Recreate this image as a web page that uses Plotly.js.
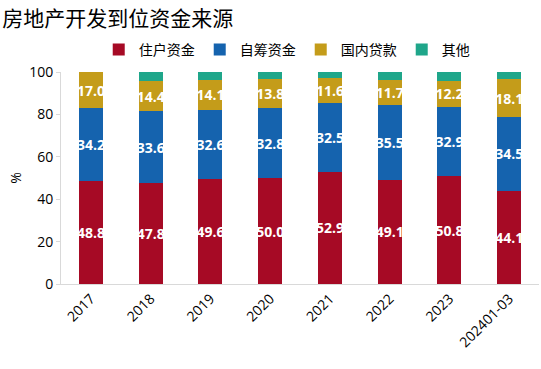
<!DOCTYPE html>
<html>
<head>
<meta charset="utf-8">
<script src="https://cdn.plot.ly/plotly-3.0.1.min.js"></script>
<style>html,body{margin:0;padding:0;background:#fff;}#chart{width:541px;height:369px;}</style>
</head>
<body>
<div id="chart"></div>
<script>
var categories = ['2017','2018','2019','2020','2021','2022','2023','202401-03'];
var household = [48.8, 47.8, 49.6, 50.0, 52.9, 49.1, 50.8, 44.1];
var selfRaised = [34.2, 33.6, 32.6, 32.8, 32.5, 35.5, 32.9, 34.5];
var domesticLoans = [17.0, 14.4, 14.1, 13.8, 11.6, 11.7, 12.2, 18.1];
var other = [0.0, 4.2, 3.7, 3.4, 3.0, 3.7, 4.1, 3.3];
var seriesNames = ['住户资金','自筹资金','国内贷款','其他'];
var colors = ['#A60A25','#1563AE','#C49C1A','#1FA68A'];

function fmt(arr){ return arr.map(function(v){ return v.toFixed(1); }); }

var series = [household, selfRaised, domesticLoans, other];
var traces = series.map(function(vals, i){
  var t = {
    type: 'bar',
    name: seriesNames[i],
    x: categories,
    y: vals,
    marker: {color: colors[i]},
    hoverinfo: 'x+y+name'
  };
  if (i < 3) {
    t.text = fmt(vals);
    t.textposition = 'inside';
    t.insidetextanchor = 'middle';
    t.textangle = 0;
    t.constraintext = 'none';
    t.textfont = {family: 'Open Sans, Arial, sans-serif', size: 14, color: '#ffffff', weight: 'bold'};
  } else {
    t.textposition = 'none';
  }
  return t;
});

var layout = {
  width: 541,
  height: 369,
  barmode: 'stack',
  bargap: 0.6,
  paper_bgcolor: '#ffffff',
  plot_bgcolor: '#ffffff',
  margin: {l: 61, r: 2, t: 72, b: 85},
  font: {family: 'Noto Sans CJK SC, sans-serif', color: '#000000'},
  title: {
    text: '房地产开发到位资金来源',
    x: 0.004, xanchor: 'left', xref: 'container',
    y: 0.95, yanchor: 'middle', yref: 'container',
    font: {family: 'Noto Sans CJK SC, sans-serif', size: 21, color: '#000000'}
  },
  legend: {
    orientation: 'h',
    traceorder: 'normal',
    xref: 'container', yref: 'container',
    x: 0.53, xanchor: 'center',
    y: 0.865, yanchor: 'middle',
    font: {family: 'Noto Sans CJK SC, sans-serif', size: 14, color: '#000000'},
    itemwidth: 30,
    tracegroupgap: 0
  },
  xaxis: {
    type: 'category',
    tickangle: -45,
    tickfont: {family: 'Open Sans, Arial, sans-serif', size: 14, color: '#000000'},
    showline: true,
    linecolor: '#d9d9d9',
    linewidth: 1,
    ticks: '',
    showgrid: false,
    zeroline: false
  },
  yaxis: {
    range: [0, 100],
    tick0: 0,
    dtick: 20,
    tickfont: {family: 'Open Sans, Arial, sans-serif', size: 14, color: '#000000'},
    showline: true,
    linecolor: '#d9d9d9',
    linewidth: 1,
    ticks: 'outside',
    ticklen: 4,
    tickcolor: '#d9d9d9',
    showgrid: false,
    zeroline: false,
    title: {text: '%', font: {family: 'Open Sans, Arial, sans-serif', size: 14, color: '#000000'}, standoff: 4}
  },
  showlegend: true
};

Plotly.newPlot('chart', traces, layout, {displayModeBar: false, staticPlot: true});
</script>
</body>
</html>
